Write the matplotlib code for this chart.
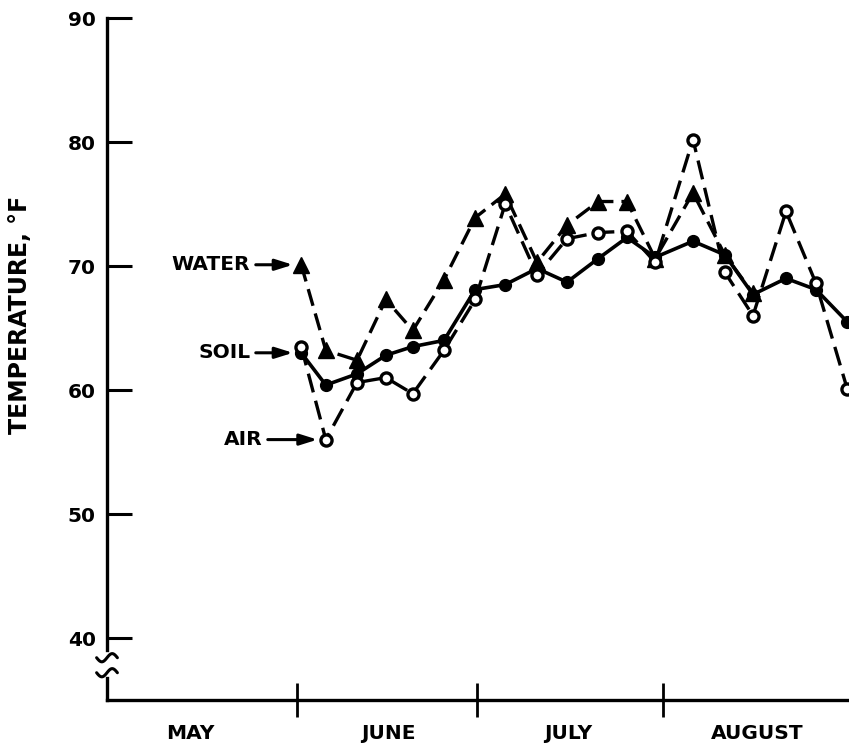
"""Air, soil and water temperatures, May to August (line chart)."""

import numpy as np
import matplotlib
matplotlib.use("Agg")
import matplotlib.pyplot as plt


# Observation dates as days counted from May 1.
DAYS = [31.7, 35.8, 41.0, 45.8, 50.3, 55.5, 60.7, 65.7, 71.0, 76.0,
        81.2, 86.0, 90.7, 97.0, 102.3, 107.0, 112.5, 117.5, 122.7]

SOIL = [63.0, 60.4, 61.3, 62.8, 63.5, 64.0, 68.1, 68.5, 69.8, 68.7,
        70.6, 72.3, 70.7, 72.0, 70.9, 67.7, 69.0, 68.1, 65.5]
AIR = [63.5, 56.0, 60.6, 61.0, 59.7, 63.2, 67.3, 75.0, 69.3, 72.2,
       72.7, 72.8, 70.3, 80.2, 69.5, 66.0, 74.4, 68.6, 60.1]
# Water readings stop in mid August.
WATER = [70.1, 63.2, 62.4, 67.3, 64.8, 68.9, 73.9, 75.8, 70.3, 73.3,
         75.2, 75.2, 70.6, 75.9, 70.9, 67.8]

MONTH_BOUNDS = [31, 61, 92]
MONTH_CENTERS = [13.2, 46.2, 76.2, 107.7]
MONTH_NAMES = ["MAY", "JUNE", "JULY", "AUGUST"]
Y_TICKS = [40, 50, 60, 70, 80, 90]

FONT = {"family": "DejaVu Sans", "weight": "bold"}


def draw_break(ax, y0):
    """Small wavy stroke across the y axis."""
    t = np.linspace(-1, 1, 40)
    ax.plot(0.014 * t, y0 + 0.006 * np.sin(np.pi * t), color="black", lw=2.2,
            transform=ax.transAxes, clip_on=False, solid_capstyle="round")


fig = plt.figure(figsize=(8.49, 7.44), dpi=100)
ax = fig.add_axes([107 / 849, 44 / 744, 742 / 849, 682 / 744])

ax.plot(DAYS, SOIL, color="black", lw=2.6, marker="o", markersize=8.5,
        markerfacecolor="black", zorder=3)
ax.plot(DAYS[:len(WATER)], WATER, color="black", lw=2.4, linestyle=(0, (5.2, 2.4)),
        marker="^", markersize=11.5, markerfacecolor="black", zorder=4)
ax.plot(DAYS, AIR, color="black", lw=2.4, linestyle=(0, (5.8, 2.6)),
        marker="o", markersize=8, markerfacecolor="white", markeredgewidth=2.4,
        zorder=5)

arrow = dict(arrowstyle="-|>,head_length=0.7,head_width=0.22", color="black",
             lw=2.2, mutation_scale=15, shrinkA=2, shrinkB=6)
ax.annotate("WATER", xy=(DAYS[0], WATER[0]), xytext=(23.2, WATER[0]),
            ha="right", va="center", fontsize=14.5, arrowprops=arrow, **FONT)
ax.annotate("SOIL", xy=(DAYS[0], SOIL[0]), xytext=(23.2, SOIL[0]),
            ha="right", va="center", fontsize=14.5, arrowprops=arrow, **FONT)
ax.annotate("AIR", xy=(DAYS[1], AIR[1]), xytext=(25.2, AIR[1]),
            ha="right", va="center", fontsize=14.5, arrowprops=arrow, **FONT)

ax.set_xlim(-0.67, 123)
ax.set_ylim(35, 90)

ax.set_yticks(Y_TICKS)
ax.set_yticklabels([str(v) for v in Y_TICKS], fontsize=14.5, **FONT)
ax.tick_params(axis="y", direction="in", length=18, width=2.2, pad=8)

ax.set_xticks(MONTH_BOUNDS)
ax.set_xticklabels([])
ax.tick_params(axis="x", which="major", direction="inout", length=24, width=2)
ax.set_xticks(MONTH_CENTERS, minor=True)
ax.set_xticklabels(MONTH_NAMES, minor=True, fontsize=14.5, **FONT)
ax.tick_params(axis="x", which="minor", length=0, pad=17)

for side in ["top", "right"]:
    ax.spines[side].set_visible(False)
ax.spines["bottom"].set_linewidth(2.4)
ax.spines["left"].set_linewidth(2.4)
ax.spines["left"].set_bounds(39.0, 90)
ax.plot([0, 0], [0, 0.032], color="black", lw=2.4, transform=ax.transAxes,
        clip_on=False)
draw_break(ax, 0.062)
draw_break(ax, 0.040)

fig.text(20 / 849, 1 - 315 / 744, "TEMPERATURE, °F", rotation=90, ha="center",
         va="center", fontsize=17, **FONT)

fig.savefig("out.png", dpi=100)
